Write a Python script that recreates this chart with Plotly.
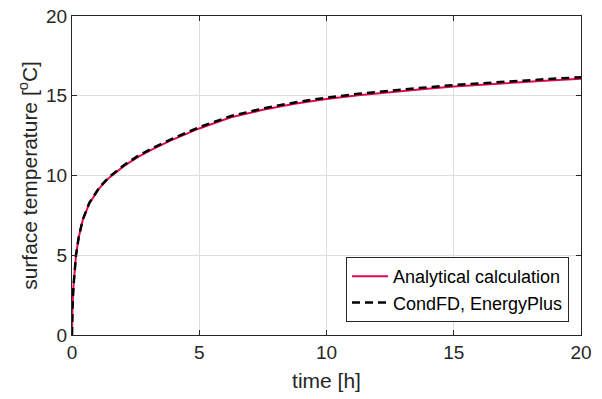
import plotly.graph_objects as go

# Analytical calculation
t_analytical = [0, 0.005, 0.02, 0.06, 0.12, 0.157, 0.26, 0.42, 0.68, 1.07, 1.45, 1.79, 2.05, 2.58, 3.23, 3.89, 4.54, 5, 6.25, 7.5, 8.75, 10, 11.25, 12.5, 13.75, 15, 16.25, 17.5, 18.75, 20]
y_analytical = [0, 0.9, 1.8, 3.1, 4.45, 5.0, 6.1, 7.2, 8.25, 9.2, 9.85, 10.3, 10.6, 11.15, 11.7, 12.2, 12.65, 12.95, 13.65, 14.12, 14.5, 14.8, 15.03, 15.23, 15.41, 15.58, 15.72, 15.85, 15.96, 16.07]

# CondFD, EnergyPlus
t_condfd = [0, 0.005, 0.02, 0.06, 0.12, 0.157, 0.26, 0.42, 0.68, 1.07, 1.45, 1.79, 2.05, 2.58, 3.23, 3.89, 4.54, 5, 6.25, 7.5, 8.75, 10, 11.25, 12.5, 13.75, 15, 16.25, 17.5, 18.75, 20]
y_condfd = [0, 0.9, 1.8, 3.1, 4.45, 5.0, 6.1, 7.22, 8.28, 9.24, 9.9, 10.35, 10.66, 11.21, 11.77, 12.27, 12.72, 13.03, 13.73, 14.2, 14.58, 14.88, 15.12, 15.32, 15.5, 15.67, 15.81, 15.94, 16.05, 16.16]

x_ticks = [0, 5, 10, 15, 20]
y_ticks = [0, 5, 10, 15, 20]

font_family = "Liberation Sans, Arial, sans-serif"
ink = "#262626"

fig = go.Figure()
fig.add_trace(go.Scatter(
    x=t_analytical, y=y_analytical, mode="lines",
    name="Analytical calculation",
    line=dict(color="#E5064F", width=2),
))
fig.add_trace(go.Scatter(
    x=t_condfd, y=y_condfd, mode="lines",
    name="CondFD, EnergyPlus",
    line=dict(color="#000000", width=2.5, dash="8px,5px"),
))

axis_common = dict(
    showline=True, mirror="ticks", linecolor=ink, linewidth=1.2,
    ticks="inside", ticklen=5, tickcolor=ink, tickwidth=1,
    showgrid=True, gridcolor="#dedede", gridwidth=1,
    zeroline=False, automargin=False, ticklabeloverflow="allow",
    tickfont=dict(family=font_family, size=19, color=ink),
)

fig.update_layout(
    width=602, height=399,
    margin=dict(l=72, r=21, t=16, b=64, autoexpand=False),
    paper_bgcolor="white", plot_bgcolor="white",
    font=dict(family=font_family, color=ink),
    xaxis=dict(
        range=[0, 20], tickvals=x_ticks, ticktext=[str(v) for v in x_ticks],
        title=dict(text="time [h]", font=dict(family=font_family, size=21, color=ink), standoff=11),
        **axis_common,
    ),
    yaxis=dict(
        range=[0, 20], tickvals=y_ticks, ticktext=[str(v) for v in y_ticks],
        title=dict(text="surface temperature [<sup>o</sup>C]", font=dict(family=font_family, size=21, color=ink), standoff=2),
        **axis_common,
    ),
    legend=dict(
        x=0.9764, y=0.0408, xanchor="right", yanchor="bottom",
        bgcolor="white", bordercolor=ink, borderwidth=1,
        font=dict(family=font_family, size=18, color="#000000"),
        tracegroupgap=0, itemwidth=36,
    ),
    showlegend=True,
)

# remove the default 8px page margin so the figure sits at the window origin
fig.write_html(
    "out.html",
    config={"displayModeBar": False},
    post_script="document.body.style.margin='0px';",
)
